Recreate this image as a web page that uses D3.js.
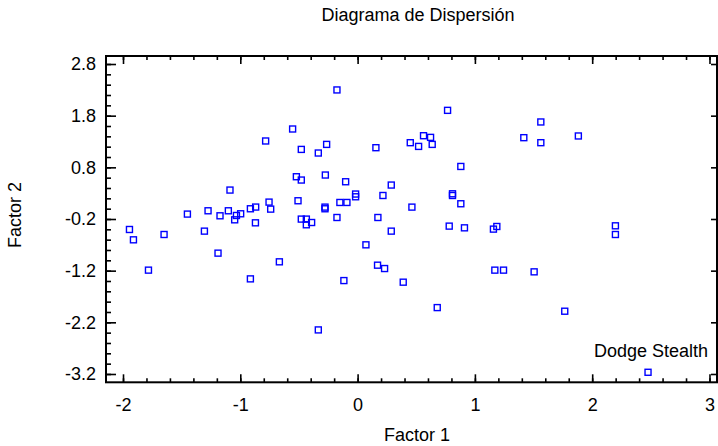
<!DOCTYPE html>
<html>
<head>
<meta charset="utf-8">
<script src="https://cdn.jsdelivr.net/npm/d3@7"></script>
<style>
  html, body { margin: 0; padding: 0; background: #fff; }
  svg { display: block; }
  text { font-family: "Liberation Sans", Arial, sans-serif; fill: #000; }
</style>
</head>
<body>
<svg id="chart" width="718" height="446"></svg>
<script>
// ---- Data ----
const factor1 = [
  -1.945, -1.911, -1.783, -1.650, -1.451, -1.306, -1.275, -1.190, -1.173, -1.102,
  -1.048, -1.033, -0.997, -0.914, -0.869, -0.871, -0.914, -1.088, -0.176, 0.767,
  -0.554, -0.784, -0.480, -0.264, -0.335, 0.156, 0.449, 0.520, 0.562, 0.622,
  0.636, 0.880, -0.522, -0.480, -0.275, -0.102, 0.287, 0.216, -0.017, -0.017,
  0.809, 0.809, 0.880, 0.463, -0.508, -0.755, -0.741, -0.278, -0.278, -0.151,
  -0.091, -0.480, -0.437, -0.437, -0.392, -0.176, 0.173, 0.287, 0.071, -0.667,
  0.170, 0.230, -0.117, 0.389, 0.679, -0.335, 0.781, 0.911, 1.158, 1.187,
  2.198, 2.198, 1.170, 1.244, 1.505, 1.766, 2.476, 1.562, 1.417, 1.562,
  1.882
];
const factor2 = [
  -0.403, -0.603, -1.190, -0.500, -0.105, -0.435, -0.041, -0.861, -0.138, -0.041,
  -0.216, -0.132, -0.099, -0.002, 0.031, -0.274, -1.359, 0.360, 2.298, 1.903,
  1.542, 1.310, 1.147, 1.244, 1.077, 1.180, 1.277, 1.205, 1.412, 1.380,
  1.244, 0.817, 0.618, 0.554, 0.651, 0.521, 0.457, 0.255, 0.283, 0.230,
  0.288, 0.255, 0.095, 0.030, 0.153, 0.127, -0.009, 0.030, -0.002, 0.120,
  0.120, -0.202, -0.202, -0.312, -0.268, -0.171, -0.171, -0.435, -0.700, -1.029,
  -1.094, -1.159, -1.392, -1.423, -1.915, -2.347, -0.338, -0.371, -0.396, -0.345,
  -0.332, -0.500, -1.190, -1.190, -1.223, -1.985, -3.167, 1.678, 1.374, 1.277,
  1.407
];
const labelledPoint = { name: "Dodge Stealth", index: 76 };

const xTickValues = [-2, -1, 0, 1, 2, 3];
const xTickLabels = ["-2", "-1", "0", "1", "2", "3"];
const yTickValues = [-3.2, -2.2, -1.2, -0.2, 0.8, 1.8, 2.8];
const yTickLabels = ["-3.2", "-2.2", "-1.2", "-0.2", "0.8", "1.8", "2.8"];

const title = "Diagrama de Dispersión";
const xTitle = "Factor 1";
const yTitle = "Factor 2";

// ---- Layout ----
const mLeft = 106, mRight = 717, mTop = 56, mBottom = 382.3;
const fontSize = 18;
const svg = d3.select("#chart");

const x = d3.scaleLinear().domain([-2.145, 3.064]).range([mLeft, mRight]);
const y = d3.scaleLinear().domain([-3.361, 2.955]).range([mBottom, mTop]);

const xMinor = d3.range(-2.0, 3.0001, 0.2).map(v => +v.toFixed(2));
const yMinor = d3.range(-3.2, 2.8001, 0.2).map(v => +v.toFixed(2));

function fmt(values, labels) {
  return v => { const i = values.findIndex(t => Math.abs(t - v) < 1e-9); return i >= 0 ? labels[i] : ""; };
}

function styleAxis(g) {
  g.select(".domain").remove();
  g.selectAll(".tick line").attr("stroke", "#000").attr("stroke-width", 1.6);
}

// bottom minor
svg.append("g").attr("transform", `translate(0,${mBottom})`)
  .call(d3.axisBottom(x).tickValues(xMinor).tickSize(-4).tickFormat(""))
  .call(styleAxis);
// bottom major with labels
svg.append("g").attr("transform", `translate(0,${mBottom})`)
  .call(d3.axisBottom(x).tickValues(xTickValues).tickSize(-8).tickPadding(16)
    .tickFormat(fmt(xTickValues, xTickLabels)))
  .call(styleAxis)
  .call(g => g.selectAll("text").attr("font-size", fontSize).attr("dy", "0.71em"));

// top minor + major
svg.append("g").attr("transform", `translate(0,${mTop})`)
  .call(d3.axisTop(x).tickValues(xMinor).tickSize(-4).tickFormat(""))
  .call(styleAxis);
svg.append("g").attr("transform", `translate(0,${mTop})`)
  .call(d3.axisTop(x).tickValues(xTickValues).tickSize(-8).tickFormat(""))
  .call(styleAxis);

// left minor
svg.append("g").attr("transform", `translate(${mLeft},0)`)
  .call(d3.axisLeft(y).tickValues(yMinor).tickSize(-5).tickFormat(""))
  .call(styleAxis);
// left major with labels
svg.append("g").attr("transform", `translate(${mLeft},0)`)
  .call(d3.axisLeft(y).tickValues(yTickValues).tickSize(-10).tickPadding(10)
    .tickFormat(fmt(yTickValues, yTickLabels)))
  .call(styleAxis)
  .call(g => g.selectAll("text").attr("font-size", fontSize));

// right major
svg.append("g").attr("transform", `translate(${mRight},0)`)
  .call(d3.axisRight(y).tickValues(yTickValues).tickSize(-6).tickFormat(""))
  .call(styleAxis);

// frame
svg.append("rect")
  .attr("x", mLeft).attr("y", mTop)
  .attr("width", mRight - mLeft).attr("height", mBottom - mTop)
  .attr("fill", "none").attr("stroke", "#000").attr("stroke-width", 2);

// points
const pts = factor1.map((v, i) => ({ fx: v, fy: factor2[i] }));
const s = 6;
svg.append("g").selectAll("rect").data(pts).join("rect")
  .attr("x", d => x(d.fx) - s / 2)
  .attr("y", d => y(d.fy) - s / 2)
  .attr("width", s).attr("height", s)
  .attr("fill", "none").attr("stroke", "#0000ff").attr("stroke-width", 1.4);

// point label
const lp = pts[labelledPoint.index];
svg.append("text")
  .attr("x", x(lp.fx) + 60).attr("y", y(lp.fy) - 15)
  .attr("text-anchor", "end").attr("font-size", fontSize)
  .text(labelledPoint.name);

// titles
svg.append("text").attr("x", 418).attr("y", 21)
  .attr("text-anchor", "middle").attr("font-size", fontSize)
  .text(title);
svg.append("text").attr("x", 417).attr("y", 441)
  .attr("text-anchor", "middle").attr("font-size", fontSize)
  .text(xTitle);
svg.append("text").attr("transform", "translate(21,215) rotate(-90)")
  .attr("text-anchor", "middle").attr("font-size", fontSize)
  .text(yTitle);
</script>
</body>
</html>
